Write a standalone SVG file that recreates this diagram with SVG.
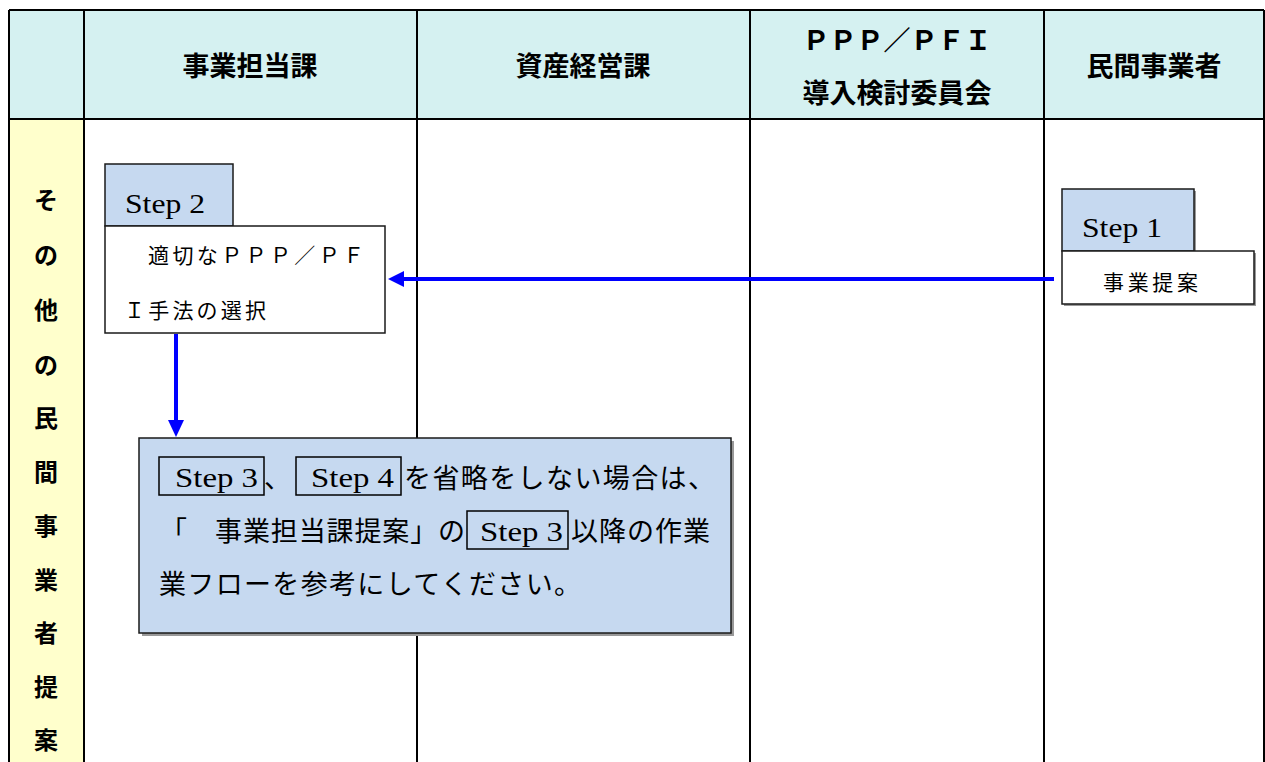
<svg xmlns="http://www.w3.org/2000/svg" width="1265" height="762" viewBox="0 0 1265 762">
<style>
.hdr{fill:#D5F1F1}
.grid{stroke:#000;stroke-width:2;fill:none}
.ht{font-family:"Noto Sans CJK JP","Noto Sans",sans-serif;font-size:27px;font-weight:bold;fill:#000;text-anchor:middle}
.vt{font-family:"Noto Sans CJK JP","Noto Sans",sans-serif;font-size:24px;font-weight:bold;fill:#000;text-anchor:middle}
.tab{fill:#C6D9F0;stroke:#1a1a1a;stroke-width:1.5}
.box{fill:#fff;stroke:#1a1a1a;stroke-width:1.5}
.step{font-family:"Liberation Serif",serif;font-size:27px;fill:#000}
.jt{font-family:"Noto Sans CJK JP","Noto Sans",sans-serif;font-size:21px;fill:#000}
.nt{font-family:"Noto Sans CJK JP","Noto Sans",sans-serif;font-size:27px;fill:#000}
.ns{font-family:"Liberation Serif",serif;font-size:28px;fill:#000}
.ib{fill:none;stroke:#000;stroke-width:1.5}
.arr{stroke:#0000FF;stroke-width:4;fill:none}
.head{fill:#0000FF}
</style>
<rect width="1265" height="762" fill="#fff"/>
<g id="table">
<rect class="hdr" x="9" y="10" width="1255" height="109"/>
<rect x="9" y="119" width="75" height="643" fill="#FFFFCC"/>
<path class="grid" d="M9,10 H1264 M9,119 H1264 M9,10 V762 M84,10 V762 M417,10 V762 M750,10 V762 M1044,10 V762 M1264,10 V762"/>
<text class="ht" x="250" y="76">事業担当課</text>
<text class="ht" x="583" y="76">資産経営課</text>
<text class="ht" x="897" y="50">ＰＰＰ／ＰＦＩ</text>
<text class="ht" x="897" y="103">導入検討委員会</text>
<text class="ht" x="1154" y="76">民間事業者</text>
<text class="vt" x="46" y="209">そ</text>
<text class="vt" x="46" y="264">の</text>
<text class="vt" x="46" y="319">他</text>
<text class="vt" x="46" y="374">の</text>
<text class="vt" x="46" y="427">民</text>
<text class="vt" x="46" y="481">間</text>
<text class="vt" x="46" y="535">事</text>
<text class="vt" x="46" y="589">業</text>
<text class="vt" x="46" y="642">者</text>
<text class="vt" x="46" y="696">提</text>
<text class="vt" x="46" y="749">案</text>
</g>
<g id="connectors">
<line class="arr" x1="1054" y1="279" x2="402" y2="279"/>
<polygon class="head" points="388,279 404,271 404,287"/>
<line class="arr" x1="176" y1="334" x2="176" y2="422"/>
<polygon class="head" points="176,437 168,420 184,420"/>
</g>
<g id="step2">
<rect class="tab" x="105" y="164" width="128" height="62"/>
<text class="step" x="125" y="213" textLength="80" lengthAdjust="spacingAndGlyphs">Step 2</text>
<rect class="box" x="105" y="226" width="280" height="107"/>
<text class="jt" x="148" y="263" textLength="216" lengthAdjust="spacing">適切なＰＰＰ／ＰＦ</text>
<text class="jt" x="124" y="318" textLength="142" lengthAdjust="spacing">Ｉ手法の選択</text>
</g>
<g id="step1">
<rect x="1064" y="191" width="132" height="63" fill="#999"/>
<rect class="tab" x="1062" y="189" width="132" height="62"/>
<text class="step" x="1082" y="237" textLength="80" lengthAdjust="spacingAndGlyphs">Step 1</text>
<rect x="1064" y="253" width="192" height="53" fill="#999"/>
<rect class="box" x="1062" y="251" width="192" height="53"/>
<text class="jt" x="1103" y="290" textLength="95" lengthAdjust="spacing">事業提案</text>
</g>
<g id="note">
<rect x="142" y="441" width="592" height="195" fill="#999"/>
<rect x="139" y="438" width="592" height="195" fill="#C6D9F0" stroke="#1a1a1a" stroke-width="1.5"/>
<rect class="ib" x="159" y="457" width="105" height="38"/>
<text class="ns" x="175" y="487" textLength="83" lengthAdjust="spacingAndGlyphs">Step 3</text>
<text class="nt" x="264" y="488">、</text>
<rect class="ib" x="296" y="457" width="105" height="38"/>
<text class="ns" x="311" y="487" textLength="83" lengthAdjust="spacingAndGlyphs">Step 4</text>
<text class="nt" x="404" y="488" textLength="311" lengthAdjust="spacing">を省略をしない場合は、</text>
<text class="nt" x="160" y="541">「</text>
<text class="nt" x="215" y="541" textLength="250" lengthAdjust="spacing">事業担当課提案」の</text>
<rect class="ib" x="467" y="511" width="101" height="38"/>
<text class="ns" x="480" y="541" textLength="83" lengthAdjust="spacingAndGlyphs">Step 3</text>
<text class="nt" x="571" y="541" textLength="139" lengthAdjust="spacing">以降の作業</text>
<text class="nt" x="159" y="594" textLength="422" lengthAdjust="spacing">業フローを参考にしてください。</text>
</g>
</svg>
